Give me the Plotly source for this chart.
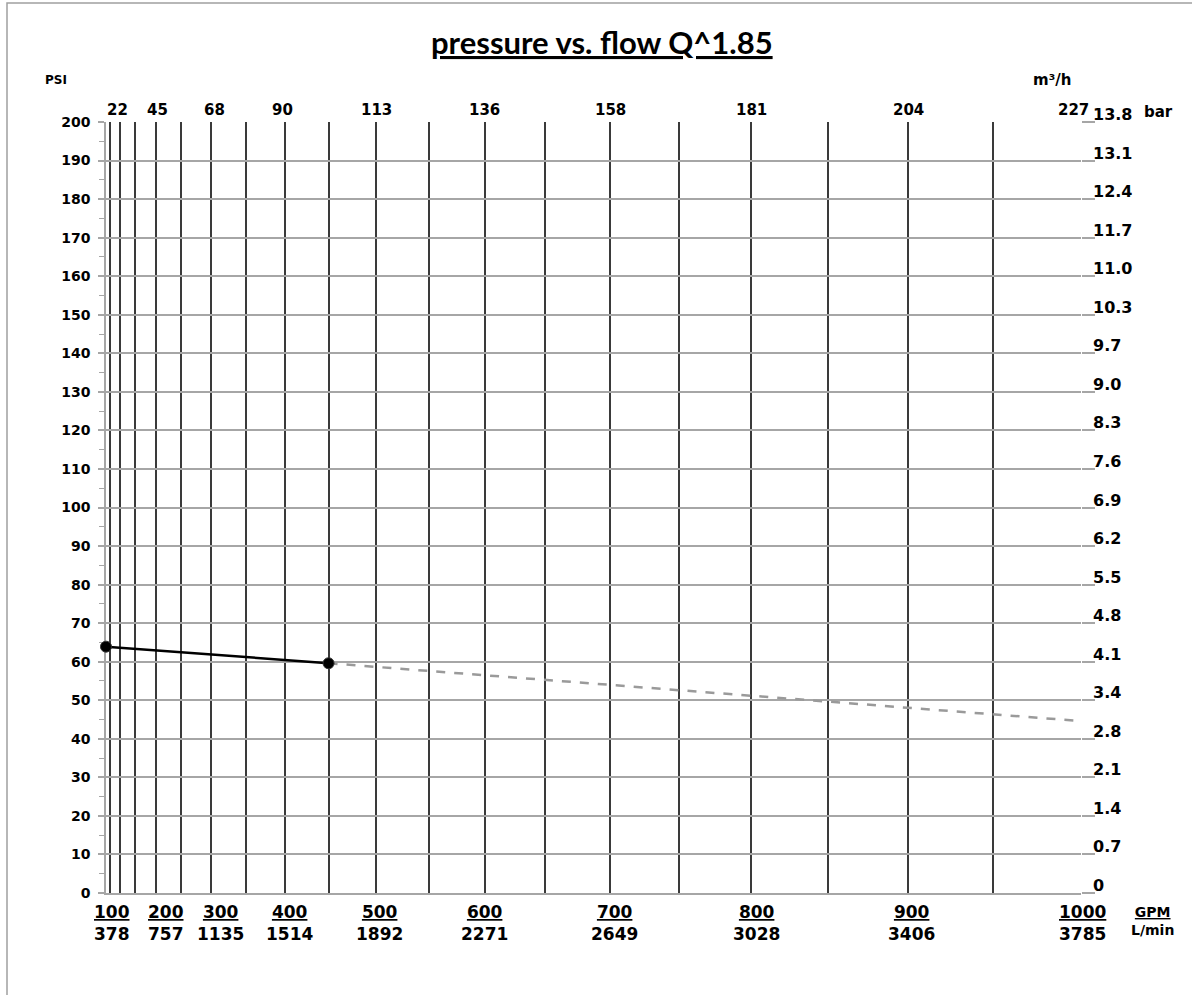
import plotly.graph_objects as go

# ---- data ----
EXP = 1.85
grid_gpm = [50 * i for i in range(1, 21)]            # vertical grid lines (GPM)
label_gpm = [100, 200, 300, 400, 500, 600, 700, 800, 900, 1000]
label_lpm = ["378", "757", "1135", "1514", "1892", "2271", "2649", "3028", "3406", "3785"]
label_m3h = ["22", "45", "68", "90", "113", "136", "158", "181", "204", "227"]
psi_ticks = list(range(0, 201, 10))
bar_labels = ["0", "0.7", "1.4", "2.1", "2.8", "3.4", "4.1", "4.8", "5.5", "6.2", "6.9",
              "7.6", "8.3", "9.0", "9.7", "10.3", "11.0", "11.7", "12.4", "13.1", "13.8"]
# label horizontal nudges (px), as in the reference layout
label_shift = [-8, 10, 9, 5, 3, 0, 4, 5, 3, 1]
top_shift = [-2, 2, 3, -2, 0, 0, 0, 0, 0, -8]

solid_gpm = [0, 450]
solid_psi = [63.9, 59.6]
dash_gpm = [450, 1000]
dash_psi = [59.6, 44.6]


def q(v):
    return v ** EXP


W, H = 1192, 995
L, R, T, B = 106, 111, 122, 102
PW, PH = W - L - R, H - T - B

FONT = "DejaVu Sans"
GRID_GRAY = "#a6a6a6"
DARK = "#3a3a3a"

fig = go.Figure()

fig.add_trace(go.Scatter(
    x=[q(v) for v in dash_gpm], y=dash_psi, mode="lines",
    line=dict(color="#9a9a9a", width=2.5, dash="dash"), hoverinfo="skip", showlegend=False))
fig.add_trace(go.Scatter(
    x=[q(v) for v in solid_gpm], y=solid_psi, mode="lines+markers",
    line=dict(color="black", width=2.5), cliponaxis=False,
    marker=dict(color="black", size=11, line=dict(color="#333333", width=1)),
    showlegend=False))
# invisible trace to activate the secondary (right) axis
fig.add_trace(go.Scatter(x=[0], y=[0], yaxis="y2", mode="markers",
                         marker=dict(opacity=0), showlegend=False, hoverinfo="skip"))

xmax = q(1000)

fig.update_layout(
    width=W, height=H,
    margin=dict(l=L, r=R, t=T, b=B),
    paper_bgcolor="white", plot_bgcolor="white",
    font=dict(family=FONT, color="black"),
    xaxis=dict(
        range=[0, xmax], tickvals=[q(v) for v in grid_gpm], showticklabels=False,
        showgrid=True, gridcolor=DARK, gridwidth=1.6, zeroline=False,
        showline=True, linecolor=GRID_GRAY, linewidth=1.5, ticks="", fixedrange=True,
        layer="below traces",
    ),
    yaxis=dict(
        range=[0, 200], tickvals=psi_ticks, ticktext=[str(v) for v in psi_ticks],
        tickfont=dict(family=FONT, size=14, weight="bold"),
        showgrid=True, gridcolor=GRID_GRAY, gridwidth=1.5, zeroline=False,
        showline=True, linecolor=GRID_GRAY, linewidth=1.5,
        ticks="outside", ticklen=6, tickcolor=GRID_GRAY, tickwidth=1.5,
        ticklabelstandoff=5, layer="below traces",
        minor=dict(dtick=5, ticks="outside", ticklen=5, tickcolor=GRID_GRAY, tickwidth=1.2, showgrid=False),
    ),
    yaxis2=dict(
        overlaying="y", side="right", range=[0, 200], tickvals=psi_ticks,
        showticklabels=False, showgrid=False, zeroline=False, showline=False,
        ticks="outside", ticklen=13, tickcolor=GRID_GRAY, tickwidth=1.5,
        layer="below traces",
    ),
)

ann = []
# title
ann.append(dict(text="<u>pressure vs. flow Q^1.85</u>", xref="paper", yref="paper",
                x=(602 - L) / PW, y=(H - B - 42) / PH, xanchor="center", yanchor="middle",
                showarrow=False, font=dict(family="Lato", size=31, weight="bold", color="black")))
# top m³/h labels
for g, t, s in zip(label_gpm, label_m3h, top_shift):
    ann.append(dict(text=t, xref="x", yref="paper", x=q(g), y=1, xanchor="center",
                    yanchor="bottom", xshift=s, yshift=1, showarrow=False,
                    font=dict(family=FONT, size=15, weight="bold", color="black")))
# right-side bar labels
for v, t in zip(psi_ticks, bar_labels):
    ann.append(dict(text=t, xref="paper", yref="y", x=1, y=v, xanchor="left", yanchor="bottom",
                    xshift=10, yshift=-4, showarrow=False,
                    font=dict(family=FONT, size=16, weight="bold", color="black")))
# bottom GPM / L/min labels
for g, lp, s in zip(label_gpm, label_lpm, label_shift):
    ann.append(dict(text=f"<u>{g}</u><br>{lp}", xref="x", yref="paper", x=q(g), y=0,
                    xanchor="center", yanchor="top", xshift=s, yshift=-7, showarrow=False,
                    align="center",
                    font=dict(family=FONT, size=17, weight="bold", color="black")))
# unit labels
ann.append(dict(text="<u>GPM</u><br>L/min", xref="paper", yref="paper", x=(1152 - L) / PW, y=0,
                xanchor="center", yanchor="top", yshift=-9, showarrow=False, align="center",
                font=dict(family=FONT, size=14, weight="bold", color="black")))
ann.append(dict(text="PSI", xref="paper", yref="paper", x=(56 - L) / PW, y=(H - B - 80) / PH,
                xanchor="center", yanchor="middle", showarrow=False,
                font=dict(family=FONT, size=12, weight="bold", color="black")))
ann.append(dict(text="m³/h", xref="paper", yref="paper", x=(1052 - L) / PW, y=(H - B - 80) / PH,
                xanchor="center", yanchor="middle", showarrow=False,
                font=dict(family=FONT, size=15, weight="bold", color="black")))
ann.append(dict(text="bar", xref="paper", yref="paper", x=(1158 - L) / PW, y=(H - B - 112) / PH,
                xanchor="center", yanchor="middle", showarrow=False,
                font=dict(family=FONT, size=15, weight="bold", color="black")))
fig.update_layout(annotations=ann)

# outer frame
fig.add_shape(type="rect", xref="paper", yref="paper",
              x0=(7 - L) / PW, x1=(1200 - L) / PW, y0=(H - B - 1005) / PH, y1=(H - B - 3) / PH,
              line=dict(color="#a0a0a0", width=1.5), fillcolor="rgba(0,0,0,0)", layer="below")

fig.write_html("out.html", config={"displayModeBar": False},
               post_script="document.body.style.margin='0';document.body.style.overflow='hidden';")
